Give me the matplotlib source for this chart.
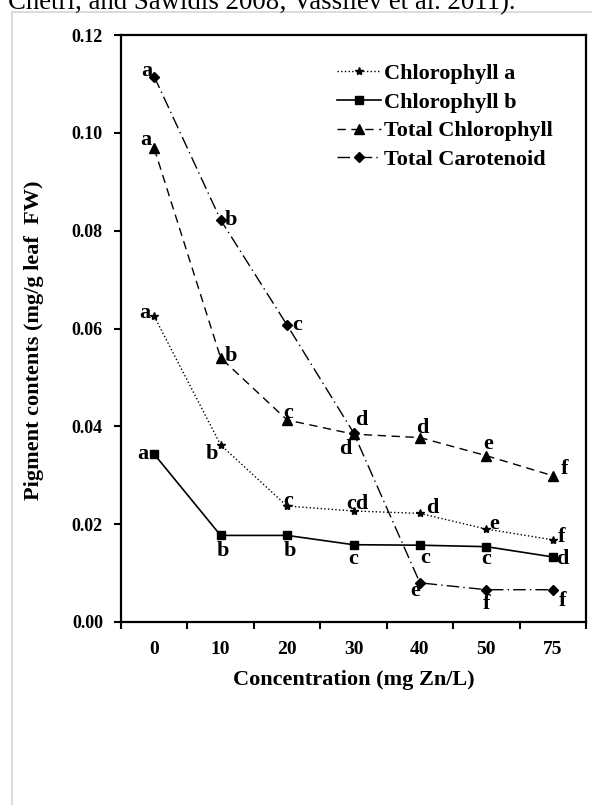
import numpy as np
import matplotlib.pyplot as plt
from matplotlib.lines import Line2D

# data
concentrations = ['0', '10', '20', '30', '40', '50', '75']
chl_a = [0.0625, 0.0362, 0.0237, 0.0227, 0.0222, 0.0190, 0.0168]
chl_b = [0.0343, 0.0177, 0.0177, 0.0158, 0.0157, 0.0154, 0.0133]
total_chl = [0.0968, 0.0540, 0.0413, 0.0384, 0.0377, 0.0340, 0.0299]
carotenoid = [0.1115, 0.0822, 0.0607, 0.0387, 0.0080, 0.0066, 0.0066]

letters_a = ['a', 'b', 'c', 'cd', 'd', 'e', 'f']
letters_b = ['a', 'b', 'b', 'c', 'c', 'c', 'd']
letters_tc = ['a', 'b', 'c', 'd', 'd', 'e', 'f']
letters_car = ['a', 'b', 'c', 'd', 'e', 'f', 'f']

# label offsets in pixels (dx right, dy down)
off_a = [(-9, -3), (-9, 9), (1, -5), (4, -7), (12, -5), (8, -5), (9, -3)]
off_b = [(-11, 0), (2, 16), (3, 16), (0, 14), (5, 13), (0, 12), (10, 2)]
off_tc = [(-8, -8), (10, -2), (1, -7), (-8, 15), (2, -10), (2, -12), (12, -7)]
off_car = [(-7, -6), (10, 0), (10, 0), (8, -13), (-5, 8), (0, 14), (10, 11)]

plt.rcParams['font.family'] = 'Liberation Serif'
plt.rcParams['font.weight'] = 'bold'

fig = plt.figure(figsize=(5.92, 8.05), dpi=100)
ax = fig.add_axes([121 / 592, 1 - 622 / 805, 465 / 592, 587 / 805])

x = np.arange(len(concentrations))

ax.plot(x, chl_a, color='black', linestyle=':', linewidth=1.0,
        marker='*', markersize=6, label='Chlorophyll a')
ax.plot(x, chl_b, color='black', linestyle='-', linewidth=1.2,
        marker='s', markersize=6, label='Chlorophyll b')
ax.plot(x, total_chl, color='black', linestyle=(0, (6, 4)), linewidth=1.0,
        marker='^', markersize=7, label='Total Chlorophyll')
ax.plot(x, carotenoid, color='black', linestyle=(0, (9, 3, 1, 3)), linewidth=1.0,
        marker='D', markersize=5, label='Total Carotenoid')

for vals, labs, offs in [(chl_a, letters_a, off_a), (chl_b, letters_b, off_b),
                         (total_chl, letters_tc, off_tc), (carotenoid, letters_car, off_car)]:
    for xi, yi, t, (dx, dy) in zip(x, vals, labs, offs):
        ax.annotate(t, xy=(xi, yi), xytext=(dx, -dy), textcoords='offset pixels',
                    ha='center', va='center', fontsize=16, fontweight='bold')

ax.set_xlim(-0.5, len(concentrations) - 0.5)
ax.set_ylim(0, 0.12)
ax.set_yticks(np.arange(0, 0.121, 0.02))
ax.set_yticklabels([f'{v:.2f}' for v in np.arange(0, 0.121, 0.02)])
ax.set_xticks(np.arange(-0.5, len(concentrations)), labels=[])
ax.set_xticks(x, labels=concentrations, minor=True)
ax.tick_params(axis='x', which='major', direction='out', length=5, width=1.5)
ax.tick_params(axis='x', which='minor', length=0, pad=14, labelsize=14)
ax.tick_params(axis='y', direction='out', length=5, width=1.5, pad=8, labelsize=13)
for s in ax.spines.values():
    s.set_linewidth(1.6)

ax.set_xlabel('Concentration (mg Zn/L)', fontsize=16, fontweight='bold', labelpad=8)
ax.set_ylabel('Pigment contents (mg/g leaf  FW)', fontsize=16, fontweight='bold')
ax.yaxis.set_label_coords(-0.165, 0.48)

ax.legend(loc='upper left', bbox_to_anchor=(0.4645, 0.952), frameon=False,
          borderpad=0, borderaxespad=0, handlelength=2.0, handletextpad=0.1,
          labelspacing=0.37, prop={'size': 16, 'weight': 'bold'})

# page fragments around the figure
fig.add_artist(Line2D([12 / 592, 1], [1 - 12 / 805, 1 - 12 / 805],
                      transform=fig.transFigure, color='#d6d6d6', linewidth=1.2))
fig.add_artist(Line2D([12 / 592, 12 / 592], [0, 1 - 12 / 805],
                      transform=fig.transFigure, color='#d6d6d6', linewidth=1.2))
fig.text(8 / 592, 1 - 9 / 805, 'Chetri, and Sawidis 2008; Vassilev et al. 2011).',
         fontsize=19.3, fontweight='normal', ha='left', va='baseline')

fig.savefig('out.png', dpi=100)
